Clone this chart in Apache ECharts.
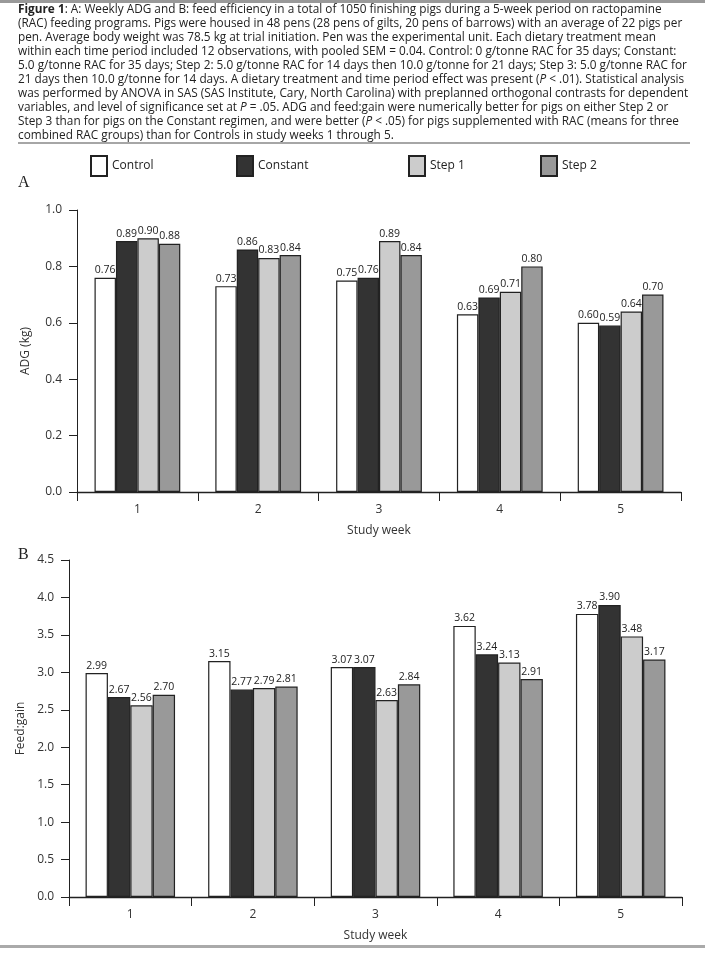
<!DOCTYPE html>
<html><head><meta charset="utf-8">
<script src="https://cdn.jsdelivr.net/npm/echarts@6/dist/echarts.min.js"></script>
<style>html,body{margin:0;padding:0;background:#fff}#c{width:705px;height:953px}</style>
</head><body><div id="c"></div>
<script>
const weeks = ['1','2','3','4','5'];
const seriesNames = ['Control','Constant','Step 1','Step 2'];
const adgControl  = [0.76, 0.73, 0.75, 0.63, 0.60];
const adgConstant = [0.89, 0.86, 0.76, 0.69, 0.59];
const adgStep1    = [0.90, 0.83, 0.89, 0.71, 0.64];
const adgStep2    = [0.88, 0.84, 0.84, 0.80, 0.70];
const fgControl  = [2.99, 3.15, 3.07, 3.62, 3.78];
const fgConstant = [2.67, 2.77, 3.07, 3.24, 3.90];
const fgStep1    = [2.56, 2.79, 2.63, 3.13, 3.48];
const fgStep2    = [2.70, 2.81, 2.84, 2.91, 3.17];
const captionLines = [
 '{b|Figure 1}: A: Weekly ADG and B: feed efficiency in a total of 1050 finishing pigs during a 5-week period on ractopamine',
 '(RAC) feeding programs. Pigs were housed in 48 pens (28 pens of gilts, 20 pens of barrows) with an average of 22 pigs per',
 'pen. Average body weight was 78.5 kg at trial initiation. Pen was the experimental unit. Each dietary treatment mean',
 'within each time period included 12 observations, with pooled SEM = 0.04. Control: 0 g/tonne RAC for 35 days; Constant:',
 '5.0 g/tonne RAC for 35 days; Step 2: 5.0 g/tonne RAC for 14 days then 10.0 g/tonne for 21 days; Step 3: 5.0 g/tonne RAC for',
 '21 days then 10.0 g/tonne for 14 days. A dietary treatment and time period effect was present ({i|P} < .01). Statistical analysis',
 'was performed by ANOVA in SAS (SAS Institute, Cary, North Carolina) with preplanned orthogonal contrasts for dependent',
 'variables, and level of significance set at {i|P} = .05. ADG and feed:gain were numerically better for pigs on either Step 2 or',
 'Step 3 than for pigs on the Constant regimen, and were better ({i|P} < .05) for pigs supplemented with RAC (means for three',
 'combined RAC groups) than for Controls in study weeks 1 through 5.'
];

const fills = ['#ffffff','#333333','#cccccc','#999999'];
const FONT = 'Open Sans';
const CAP = 11.8;
const chart = echarts.init(document.getElementById('c'), null, {renderer:'canvas'});

function mkSeries(data, idx, ax){
  return {
    type:'bar', name: seriesNames[idx], xAxisIndex:ax, yAxisIndex:ax, data:data,
    barGap:'0%', barCategoryGap: ax===0 ? '29%' : '27%',
    itemStyle:{color:fills[idx], borderColor:'#222', borderWidth:1.2},
    label:{show:true, position:'top', distance:2, fontFamily:FONT, fontSize:10.5, color:'#222',
      formatter:p=>p.value.toFixed(2)},
    emphasis:{disabled:true}, animation:false
  };
}

const graphics = [
  {type:'rect', shape:{x:0,y:0,width:705,height:3}, style:{fill:'#999'}},
  {type:'rect', shape:{x:0,y:945,width:705,height:3}, style:{fill:'#aaa'}},
  {type:'line', shape:{x1:18,y1:143,x2:690,y2:143}, style:{stroke:'#888',lineWidth:1.5}},
  {type:'text', left:18, top:175, style:{text:'A', font:'16px "Liberation Serif"', fill:'#222'}},
  {type:'text', left:18, top:547, style:{text:'B', font:'16px "Liberation Serif"', fill:'#222'}}
];
captionLines.forEach((t,i)=>{
  graphics.push({type:'text', left:18, top:4+i*14, style:{
    text:t, fontFamily:FONT, fontSize:CAP, fill:'#222',
    rich:{b:{fontFamily:FONT,fontSize:CAP,fontWeight:'bold',fill:'#222'},
          i:{fontFamily:FONT,fontSize:CAP,fontStyle:'italic',fill:'#222'}}
  }});
});

const legendX = [90, 236, 408, 540];
const legends = seriesNames.map((n,i)=>({
  data:[n], left:legendX[i], top:155, padding:0, itemWidth:16, itemHeight:20, itemGap:6, icon:'rect',
  selectedMode:false, textStyle:{fontFamily:FONT, fontSize:12, color:'#222'}
}));

function yAx(gi, max, interval, name, gap){
  return {type:'value', gridIndex:gi, min:0, max:max, interval:interval,
    name:name, nameLocation:'middle', nameGap:gap, nameTextStyle:{fontFamily:FONT,fontSize:12,color:'#333'},
    axisLine:{show:true, lineStyle:{color:'#222', width:1}},
    axisTick:{show:true, length:8, lineStyle:{color:'#222'}},
    axisLabel:{margin:15, fontFamily:FONT, fontSize:12, color:'#333', formatter:v=>v.toFixed(1)},
    splitLine:{show:false}};
}
function xAx(gi){
  return {type:'category', gridIndex:gi, data:weeks, boundaryGap:true,
    name:'Study week', nameLocation:'middle', nameGap:33, nameTextStyle:{fontFamily:FONT,fontSize:12,color:'#333'},
    axisLine:{show:true, lineStyle:{color:'#222', width:1.3}},
    axisTick:{show:true, length:9, alignWithLabel:false, lineStyle:{color:'#222'}},
    axisLabel:{margin:12, fontFamily:FONT, fontSize:12, color:'#333'}};
}

chart.setOption({
  animation:false,
  textStyle:{fontFamily:FONT},
  legend: legends,
  grid:[
    {left:77, right:24, top:210, bottom:461},
    {left:69, right:23, top:560, bottom:56}
  ],
  xAxis:[xAx(0), xAx(1)],
  yAxis:[yAx(0,1.0,0.2,'ADG (kg)',45), yAx(1,4.5,0.5,'Feed:gain',33)],
  series:[
    mkSeries(adgControl,0,0), mkSeries(adgConstant,1,0), mkSeries(adgStep1,2,0), mkSeries(adgStep2,3,0),
    mkSeries(fgControl,0,1), mkSeries(fgConstant,1,1), mkSeries(fgStep1,2,1), mkSeries(fgStep2,3,1)
  ],
  graphic: graphics
});
</script></body></html>
